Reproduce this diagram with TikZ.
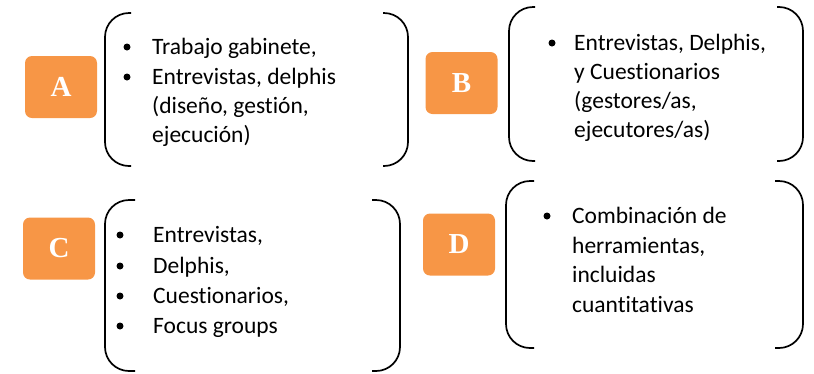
\documentclass[tikz,border=0pt]{standalone}
\usepackage{fontspec}
\setmainfont{Carlito}[RawFeature={-liga}]
\newfontfamily\letterfont{Liberation Serif}
\definecolor{boxorange}{HTML}{F79646}
\begin{document}
\begin{tikzpicture}[x=1pt,y=-1pt,
  letterbox/.style={fill=boxorange,rounded corners=7pt,minimum width=72pt,minimum height=62pt,inner sep=0pt,
    text=white,font=\letterfont\fontsize{29}{29}\selectfont\bfseries},
  itemtext/.style={anchor=base west,inner sep=0pt,font=\fontsize{23.5}{28}\selectfont},
  dot/.style={circle,fill=black,inner sep=0pt,minimum size=7pt},
  bracketline/.style={line width=1.7pt,rounded corners=24pt}]
\useasboundingbox (0,0) rectangle (814,373);
% A
\node[letterbox] (la) at (61,87) {A};
\draw[bracketline] (131,13) -- (105,13) -- (105,166) -- (131,166);
\draw[bracketline] (383,13) -- (408,13) -- (408,166) -- (383,166);
\node[dot] (a1d) at (127,47) {};
\node[dot] (a2d) at (127,77) {};
\node[itemtext] (a1) at (152,54) {Trabajo gabinete,};
\node[itemtext] (a2) at (152,84) {Entrevistas, delphis};
\node[itemtext] (a3) at (152,113) {(diseño, gestión,};
\node[itemtext] (a4) at (152,142) {ejecución)};
% B
\node[letterbox] (lb) at (461.5,83) {B};
\draw[bracketline] (535,7) -- (509,7) -- (509,161) -- (535,161);
\draw[bracketline] (777,7) -- (803,7) -- (803,161) -- (777,161);
\node[dot] (b1d) at (552,43) {};
\node[itemtext] (b1) at (574,50) {Entrevistas, Delphis,};
\node[itemtext] (b2) at (574,79) {y Cuestionarios};
\node[itemtext] (b3) at (574,108) {(gestores/as,};
\node[itemtext] (b4) at (574,137) {ejecutores/as)};
% C
\node[letterbox] (lc) at (59,248.5) {C};
\draw[bracketline] (135,200) -- (105,200) -- (105,371) -- (135,371);
\draw[bracketline] (372,200) -- (400,200) -- (400,371) -- (372,371);
\node[dot] (c1d) at (120,235) {};
\node[dot] (c2d) at (120,266) {};
\node[dot] (c3d) at (120,296) {};
\node[dot] (c4d) at (120,326) {};
\node[itemtext] (c1) at (153,242) {Entrevistas,};
\node[itemtext] (c2) at (153,273) {Delphis,};
\node[itemtext] (c3) at (153,303) {Cuestionarios,};
\node[itemtext] (c4) at (153,333) {Focus groups};
% D
\node[letterbox] (ld) at (459,244.5) {D};
\draw[bracketline] (534,181) -- (506,181) -- (506,348) -- (534,348);
\draw[bracketline] (775,181) -- (803,181) -- (803,348) -- (775,348);
\node[dot] (d1d) at (547,216) {};
\node[itemtext] (d1) at (572,223) {Combinación de};
\node[itemtext] (d2) at (572,253) {herramientas,};
\node[itemtext] (d3) at (572,282) {incluidas};
\node[itemtext] (d4) at (572,312) {cuantitativas};
\end{tikzpicture}
\end{document}
